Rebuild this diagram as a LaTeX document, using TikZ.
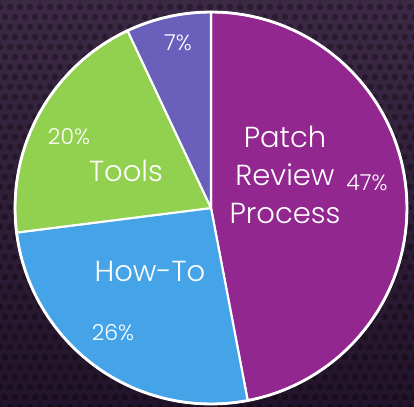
\documentclass[tikz,border=0pt]{standalone}
\usepackage{fontspec}
\setmainfont{Poppins}[UprightFont=* Light]
\usepackage{tikz}
\usetikzlibrary{positioning,calc}

\definecolor{bgTop}{HTML}{3C2946}
\definecolor{bgBottom}{HTML}{22142A}
\definecolor{patchCol}{HTML}{92278F}
\definecolor{howtoCol}{HTML}{45A3E8}
\definecolor{toolsCol}{HTML}{92D050}
\definecolor{otherCol}{HTML}{6A5FBB}

\begin{document}
\begin{tikzpicture}[x=0.02cm,y=0.02cm,every text node part/.style={align=center}]
\tikzset{myName/.style={text=white,font=\fontsize{16.5}{21.5}\selectfont}}
\tikzset{myPct/.style={text=white,font=\fontsize{12.5}{16}\selectfont}}
\tikzset{mySlice/.style={draw=white,line width=1.2pt,line join=round}}

% backdrop with dotted texture
\useasboundingbox (0,0) rectangle (414,407);
\shade[top color=bgTop,bottom color=bgBottom] (0,0) rectangle (414,407);
\foreach \i in {0,...,42}
  \foreach \j in {0,...,41}
    \fill[black,opacity=.3] ({\i*10+mod(\j,2)*5},{\j*10}) circle (1.8pt);

% the pie
\coordinate (c) at (211,199);
\def\rad{3.92cm}
\filldraw[mySlice,fill=patchCol] (c) -- ++(90:\rad) arc[start angle=90,end angle=-79.2,radius=\rad] -- cycle;
\filldraw[mySlice,fill=howtoCol] (c) -- ++(-79.2:\rad) arc[start angle=-79.2,end angle=-172.8,radius=\rad] -- cycle;
\filldraw[mySlice,fill=toolsCol] (c) -- ++(187.2:\rad) arc[start angle=187.2,end angle=115.2,radius=\rad] -- cycle;
\filldraw[mySlice,fill=otherCol] (c) -- ++(115.2:\rad) arc[start angle=115.2,end angle=90,radius=\rad] -- cycle;
\draw[white,line width=1.6pt] (c) circle (\rad);

% labels
\node[myName] (patch) at (285,232) {Patch\\Review\\Process};
\node[myPct] (patchPct) at (367,224) {47\%};
\node[myName] (howto) at (150,136) {How-To};
\node[myPct] (howtoPct) at (113,74) {26\%};
\node[myName] (tools) at (126,236) {Tools};
\node[myPct] (toolsPct) at (69,270) {20\%};
\node[myPct] (otherPct) at (178,364) {7\%};
\end{tikzpicture}
\end{document}
